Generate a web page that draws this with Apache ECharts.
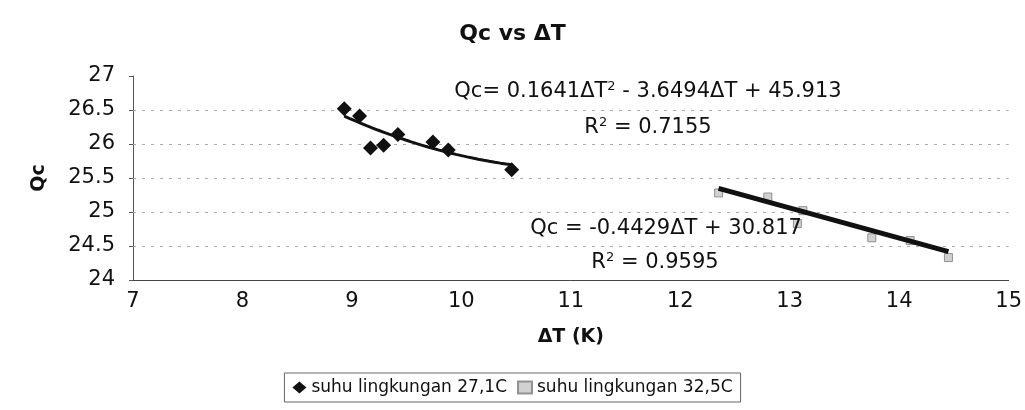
<!DOCTYPE html>
<html><head><meta charset="utf-8">
<script src="https://cdn.jsdelivr.net/npm/echarts@6/dist/echarts.min.js"></script>
<style>html,body{margin:0;padding:0;background:#fff}#c{width:1025px;height:410px}</style>
</head><body><div id="c"></div>
<script>
// Data
var s1X = [8.93, 9.07, 9.17, 9.29, 9.42, 9.74, 9.88, 10.46];
var s1Y = [26.52, 26.41, 25.94, 25.98, 26.14, 26.03, 25.91, 25.62];
var s2X = [12.35, 12.8, 13.12, 13.07, 13.75, 14.1, 14.45];
var s2Y = [25.28, 25.22, 25.02, 24.83, 24.62, 24.58, 24.33];
var polyCoef = [0.1641, -3.6494, 45.913];
var linCoef = [-0.4429, 30.817];
var xTicks = [7, 8, 9, 10, 11, 12, 13, 14, 15];
var yTicks = [24, 24.5, 25, 25.5, 26, 26.5, 27];
var gridLevels = [24.5, 25, 25.5, 26, 26.5];

function zip(a, b) { return a.map(function (v, i) { return [v, b[i]]; }); }
var polyLine = [];
var xa = Math.min.apply(null, s1X), xb = Math.max.apply(null, s1X);
for (var k = 0; k <= 30; k++) {
  var x = xa + (xb - xa) * k / 30;
  polyLine.push([x, polyCoef[0] * x * x + polyCoef[1] * x + polyCoef[2]]);
}
var la = Math.min.apply(null, s2X), lb = Math.max.apply(null, s2X);
var linLine = [[la, linCoef[0] * la + linCoef[1]], [lb, linCoef[0] * lb + linCoef[1]]];

var chart = echarts.init(document.getElementById('c'));
var font = '"DejaVu Sans", Arial, sans-serif';
var rich = { s: { fontSize: 13, verticalAlign: 'top', padding: [0, 0, 10, 0], fontFamily: font, color: '#111' },
             n: { fontSize: 21, fontFamily: font, color: '#111' } };
function txt(cx, cy, str) {
  return { type: 'text', x: cx, y: cy, z: 10,
    style: { text: str, rich: rich, fill: '#111', fontSize: 21, fontFamily: font, align: 'center', verticalAlign: 'middle' } };
}
chart.setOption({
  animation: false,
  title: { text: 'Qc vs \u0394T', left: 'center', top: 18, textStyle: { fontSize: 22, fontWeight: 'bold', fontFamily: font, color: '#111' } },
  grid: { left: 133, right: 16, top: 76, bottom: 130 },
  xAxis: {
    type: 'value', min: 7, max: 15, interval: 1,
    name: '\u0394T (K)', nameLocation: 'middle', nameGap: 48,
    nameTextStyle: { fontSize: 19, fontWeight: 'bold', fontFamily: font, color: '#111' },
    axisLine: { lineStyle: { color: '#444' } }, axisTick: { show: false },
    axisLabel: { fontSize: 21, fontFamily: font, color: '#111', margin: 11,
      formatter: function (v) { return xTicks.indexOf(v) >= 0 ? String(v) : ''; } },
    splitLine: { show: false }
  },
  yAxis: {
    type: 'value', min: 24, max: 27, interval: 0.5,
    name: 'Qc', nameLocation: 'middle', nameGap: 84, nameRotate: 90,
    nameTextStyle: { fontSize: 19, fontWeight: 'bold', fontFamily: font, color: '#111' },
    axisLine: { show: true, lineStyle: { color: '#555' } },
    axisTick: { show: true, length: 4, lineStyle: { color: '#555' } },
    axisLabel: { fontSize: 21, fontFamily: font, color: '#111', margin: 18,
      formatter: function (v) { return yTicks.indexOf(v) >= 0 ? String(v) : ''; } },
    splitLine: { show: false }
  },
  legend: {
    bottom: 8, left: 'center', orient: 'horizontal',
    borderColor: '#666', borderWidth: 1, padding: [6, 8], itemGap: 10, itemWidth: 14, itemHeight: 12,
    textStyle: { fontSize: 17, fontFamily: font, color: '#111' },
    data: [{ name: 'suhu lingkungan 27,1C', icon: 'diamond' }, { name: 'suhu lingkungan 32,5C', icon: 'rect' }]
  },
  series: [
    { name: 'poly', type: 'line', data: polyLine, showSymbol: false, symbol: 'none',
      lineStyle: { color: '#111', width: 3 }, z: 2, silent: true,
      markLine: { silent: true, symbol: 'none', label: { show: false },
        lineStyle: { color: '#aaa', type: [3, 6], width: 1 }, z: 1,
        data: gridLevels.map(function (v) { return { yAxis: v }; }) } },
    { name: 'lin', type: 'line', data: linLine, showSymbol: false, symbol: 'none',
      lineStyle: { color: '#111', width: 5 }, z: 2, silent: true },
    { name: 'suhu lingkungan 27,1C', type: 'scatter', data: zip(s1X, s1Y), symbol: 'diamond', symbolSize: 15,
      itemStyle: { color: '#111', opacity: 1 }, z: 3 },
    { name: 'suhu lingkungan 32,5C', type: 'scatter', data: zip(s2X, s2Y), symbol: 'rect', symbolSize: 8,
      itemStyle: { color: '#ccc', borderColor: '#888', borderWidth: 1, opacity: 0.9 }, z: 1 }
  ],
  graphic: [
    txt(648, 92, '{n|Qc= 0.1641\u0394T}{s|2}{n| - 3.6494\u0394T + 45.913}'),
    txt(648, 128, '{n|R}{s|2}{n| = 0.7155}'),
    txt(666, 229, '{n|Qc = -0.4429\u0394T + 30.817}'),
    txt(655, 263, '{n|R}{s|2}{n| = 0.9595}')
  ]
});
</script></body></html>
